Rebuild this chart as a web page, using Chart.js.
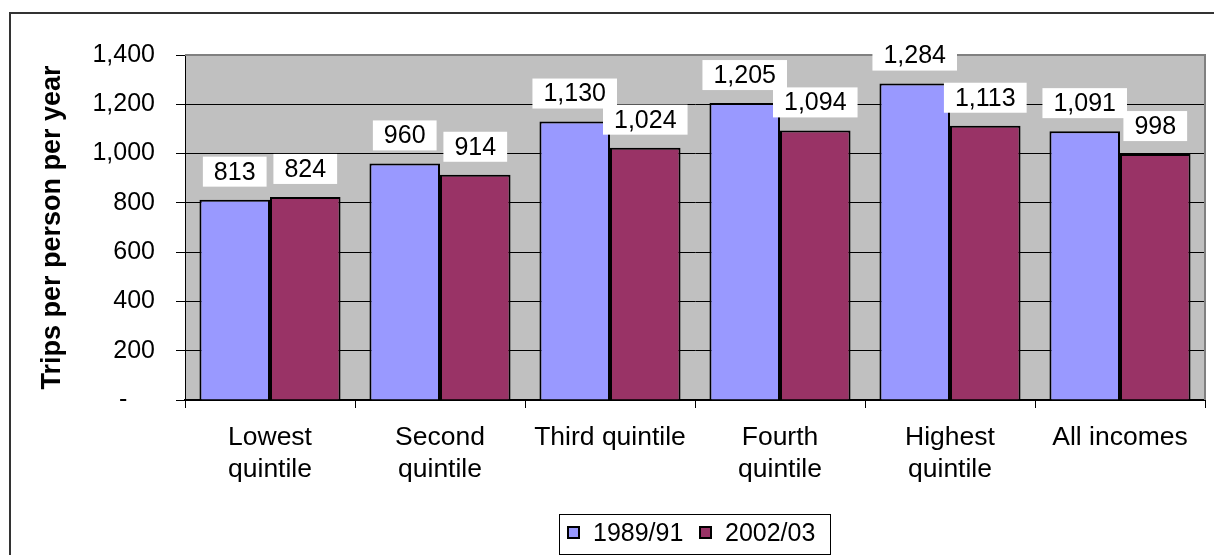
<!DOCTYPE html>
<html>
<head>
<meta charset="utf-8">
<style>
  html, body { margin: 0; padding: 0; background: #ffffff; }
  #wrap { width: 1214px; height: 555px; }
</style>
<script src="https://cdn.jsdelivr.net/npm/chart.js@4/dist/chart.umd.min.js"></script>
</head>
<body>
<div id="wrap"><canvas id="chart" width="1214" height="555"></canvas></div>
<script>
// Trips per person per year by household income quintile
const categories = [
  ['Lowest', 'quintile'],
  ['Second', 'quintile'],
  'Third quintile',
  ['Fourth', 'quintile'],
  ['Highest', 'quintile'],
  'All incomes'
];
const seriesNames = ['1989/91', '2002/03'];
const trips1989 = [813, 960, 1130, 1205, 1284, 1091];
const trips2002 = [824, 914, 1024, 1094, 1113, 998];
const seriesColors = ['#9999FF', '#993366'];
const yTicks = [0, 200, 400, 600, 800, 1000, 1200, 1400];

const FONT = "'Liberation Sans', Arial, Helvetica, sans-serif";
Chart.defaults.font.family = FONT;
Chart.defaults.color = '#000000';

const fmt = v => v.toLocaleString('en-US');

// Grey plot background and its border
const plotFrame = {
  id: 'plotFrame',
  beforeDraw(chart) {
    const { ctx, chartArea: a } = chart;
    ctx.save();
    ctx.fillStyle = '#C0C0C0';
    ctx.fillRect(a.left, a.top, a.right - a.left, a.bottom - a.top);
    ctx.restore();
  },
  beforeDatasetsDraw(chart) {
    const { ctx, chartArea: a } = chart;
    ctx.save();
    ctx.strokeStyle = '#808080';
    ctx.lineWidth = 2;
    ctx.beginPath();
    ctx.moveTo(a.left, a.top);
    ctx.lineTo(a.right, a.top);
    ctx.lineTo(a.right, a.bottom);
    ctx.stroke();
    ctx.restore();
  }
};

// Value labels in white boxes above each bar
const valueBoxes = {
  id: 'valueBoxes',
  afterDatasetsDraw(chart) {
    const { ctx } = chart;
    ctx.save();
    ctx.font = '25px ' + FONT;
    ctx.textAlign = 'center';
    ctx.textBaseline = 'middle';
    chart.data.datasets.forEach((ds, di) => {
      const meta = chart.getDatasetMeta(di);
      meta.data.forEach((bar, i) => {
        const txt = fmt(ds.data[i]);
        const w = ctx.measureText(txt).width + 22;
        const h = 30;
        const bottom = bar.y - 13;
        ctx.fillStyle = '#FFFFFF';
        ctx.fillRect(bar.x - w / 2, bottom - h, w, h);
        ctx.fillStyle = '#000000';
        ctx.fillText(txt, bar.x, bottom - h / 2 + 1);
      });
    });
    ctx.restore();
  }
};

// Boxed legend below the axis, plus the outer frame
const boxLegend = {
  id: 'boxLegend',
  afterDraw(chart) {
    const { ctx } = chart;
    ctx.save();
    // outer frame
    ctx.strokeStyle = '#333333';
    ctx.lineWidth = 2;
    ctx.strokeRect(10, 13, 1300, 700);
    // legend box
    ctx.strokeStyle = '#000000';
    ctx.lineWidth = 1;
    ctx.strokeRect(559.5, 514.5, 271, 40);
    ctx.font = '25px ' + FONT;
    ctx.textBaseline = 'middle';
    ctx.textAlign = 'left';
    const xs = [568, 700];
    chart.data.datasets.forEach((ds, di) => {
      const x = xs[di];
      ctx.fillStyle = ds.backgroundColor;
      ctx.fillRect(x, 527, 11, 11);
      ctx.strokeStyle = '#000000';
      ctx.lineWidth = 2;
      ctx.strokeRect(x, 527, 11, 11);
      ctx.fillStyle = '#000000';
      ctx.fillText(ds.label, x + 25, 534);
    });
    ctx.restore();
  }
};

new Chart(document.getElementById('chart'), {
  type: 'bar',
  data: {
    labels: categories,
    datasets: [
      {
        label: seriesNames[0],
        data: trips1989,
        backgroundColor: seriesColors[0],
        borderColor: '#000000',
        borderWidth: 2,
        categoryPercentage: 0.83,
        barPercentage: 1.0
      },
      {
        label: seriesNames[1],
        data: trips2002,
        backgroundColor: seriesColors[1],
        borderColor: '#000000',
        borderWidth: 2,
        categoryPercentage: 0.83,
        barPercentage: 1.0
      }
    ]
  },
  options: {
    responsive: false,
    animation: false,
    devicePixelRatio: 1,
    layout: { padding: { left: 0, top: 55, right: 9, bottom: 0 } },
    plugins: {
      legend: { display: false },
      tooltip: { enabled: false }
    },
    scales: {
      x: {
        afterFit(scale) { scale.height = 155; },
        grid: {
          offset: true,
          drawOnChartArea: false,
          drawTicks: true,
          tickLength: 8,
          tickColor: '#000000'
        },
        border: { color: '#000000', width: 2 },
        ticks: {
          font: { size: 26.5, lineHeight: '32px' },
          color: '#000000',
          padding: 14,
          maxRotation: 0,
          autoSkip: false
        }
      },
      y: {
        min: 0,
        max: 1400,
        afterFit(scale) { scale.width = 185; },
        afterBuildTicks(scale) { scale.ticks = yTicks.map(v => ({ value: v })); },
        grid: {
          color: ctx => (ctx.tick && ctx.tick.value === 1400 ? '#808080' : '#000000'),
          lineWidth: 1,
          drawTicks: true,
          tickLength: 9,
          tickColor: '#000000'
        },
        border: { color: '#000000', width: 1 },
        ticks: {
          font: { size: 25 },
          color: '#000000',
          padding: 21,
          callback: v => (v === 0 ? '-    ' : fmt(v))
        },
        title: {
          display: true,
          text: 'Trips per person per year',
          font: { size: 27, weight: 'bold' },
          color: '#000000',
          padding: { top: 36, bottom: 0 }
        }
      }
    }
  },
  plugins: [plotFrame, valueBoxes, boxLegend]
});
</script>
</body>
</html>
